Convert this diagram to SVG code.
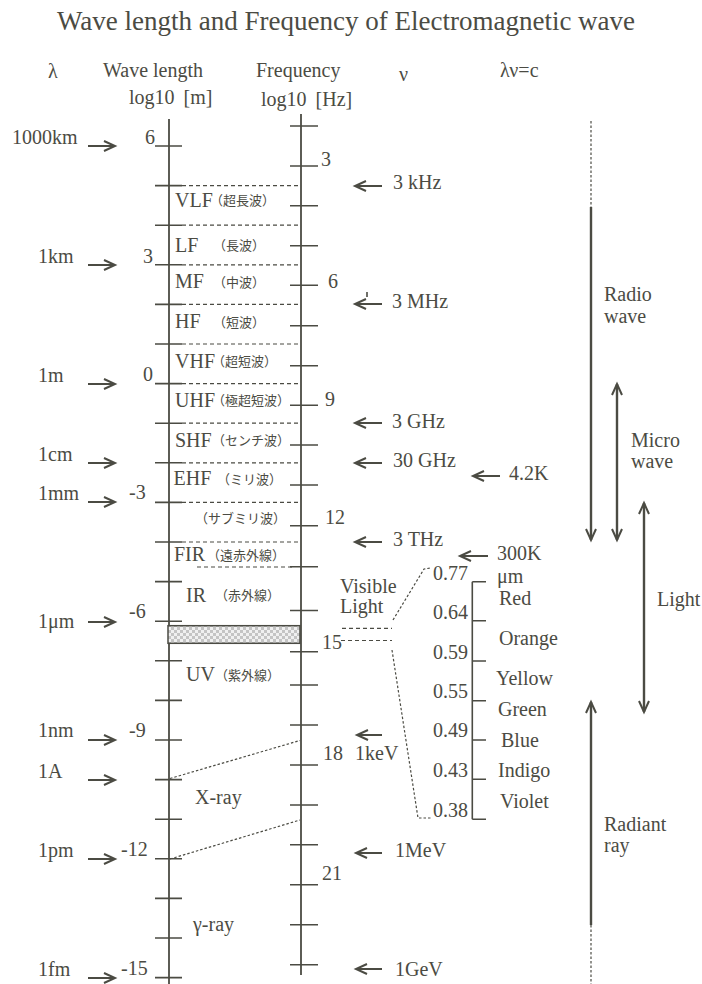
<svg xmlns="http://www.w3.org/2000/svg" width="702" height="984" viewBox="0 0 702 984">
<style>
text{font-family:"Liberation Serif","Times New Roman",serif;font-size:20px;fill:#4b4b43}
.t{font-size:27px}
.jp{font-family:"Noto Sans CJK JP","Noto Sans CJK SC",sans-serif;font-size:13px}
.ax{stroke:#4b4b43;stroke-width:1.8;fill:none}
.tk{stroke:#4b4b43;stroke-width:1.6;fill:none}
.ds{stroke:#4b4b43;stroke-width:1.2;stroke-dasharray:4 3;fill:none}
.dt{stroke:#4b4b43;stroke-width:1.2;stroke-dasharray:2.5 2;fill:none}
.ar{stroke:#4b4b43;stroke-width:2;fill:none;marker-end:url(#ah)}
.big{stroke:#4b4b43;stroke-width:2.4;fill:none}
</style>
<defs>
<marker id="ah" markerWidth="14" markerHeight="12" refX="11" refY="5" orient="auto-start-reverse" markerUnits="userSpaceOnUse" overflow="visible">
<path d="M0,0 L11,5 L0,10" fill="none" stroke="#4b4b43" stroke-width="2"/>
</marker>
<pattern id="chk" width="6" height="6" patternUnits="userSpaceOnUse">
<rect width="6" height="6" fill="#f0f0f0"/>
<rect width="3" height="3" fill="#c4c4c4"/>
<rect x="3" y="3" width="3" height="3" fill="#c4c4c4"/>
</pattern>
</defs>

<text class="t" x="57" y="30">Wave length and Frequency of Electromagnetic wave</text>

<g id="headers">
<text x="48" y="78">λ</text>
<text x="103" y="77">Wave length</text>
<text x="129" y="104">log10 <tspan dx="4">[m]</tspan></text>
<text x="256" y="77">Frequency</text>
<text x="261" y="106">log10 <tspan dx="4">[Hz]</tspan></text>
<text x="399" y="81">ν</text>
<text x="500" y="77">λν=c</text>
</g>

<g id="axes">
<line class="ax" x1="169" y1="119" x2="169" y2="984"/>
<line class="ax" x1="301" y1="114" x2="301" y2="975"/>
<path class="tk" d="M155,146H182M155,185.6H182M155,225.2H182M155,264.8H182M155,304.4H182M155,344H182M155,383.6H182M155,423.2H182M155,462.8H182M155,502.4H182M155,542H182M155,581.6H182M155,621.2H182M155,660.8H182M155,700.4H182M155,740H182M155,779.6H182M155,819.2H182M155,858.8H182M155,898.4H182M155,938H182M155,977.6H182"/>
<path class="tk" d="M290,126H318M290,166H318M290,205.7H318M290,245.7H318M290,285.3H318M290,325.7H318M290,365.7H318M290,405.3H318M290,445H318M290,485H318M290,525.7H318M290,566.7H318M290,610.5H318M290,651.7H318M290,685H318M290,725H318M290,765H318M290,805H318M290,844.7H318M290,884.7H318M290,924.7H318M290,964.7H318"/>
<path class="ds" d="M182,185.6H300M182,225.2H300M182,264.8H300M182,304.4H300M182,344H300M182,383.6H300M182,423.2H300M182,462.8H300M182,502.4H300M182,542H300M197,567H292"/>
</g>

<g id="left-labels">
<text x="12" y="144">1000km</text>
<text x="38" y="263">1km</text>
<text x="38" y="382">1m</text>
<text x="38" y="461">1cm</text>
<text x="38" y="500">1mm</text>
<text x="38" y="628">1μm</text>
<text x="38" y="737">1nm</text>
<text x="38" y="778">1A</text>
<text x="38" y="857">1pm</text>
<text x="38" y="976">1fm</text>
<text x="145" y="144">6</text>
<text x="143" y="263">3</text>
<text x="143" y="381">0</text>
<text x="129" y="499">-3</text>
<text x="129" y="618">-6</text>
<text x="129" y="737">-9</text>
<text x="121" y="856">-12</text>
<text x="121" y="975">-15</text>
</g>

<g id="right-numbers">
<text x="321" y="166">3</text>
<text x="328" y="288">6</text>
<text x="325" y="406">9</text>
<text x="325" y="524">12</text>
<text x="322" y="649">15</text>
<text x="323" y="760">18</text>
<text x="322" y="880">21</text>
</g>

<g id="band-VLF"><text x="175" y="207">VLF</text><text class="jp" x="210" y="205">（超長波）</text></g>
<g id="band-LF"><text x="175" y="251.5">LF</text><text class="jp" x="213" y="250">（長波）</text></g>
<g id="band-MF"><text x="175" y="288">MF</text><text class="jp" x="213" y="287">（中波）</text></g>
<g id="band-HF"><text x="175" y="328">HF</text><text class="jp" x="213" y="327">（短波）</text></g>
<g id="band-VHF"><text x="175" y="367.5">VHF</text><text class="jp" x="212" y="366">（超短波）</text></g>
<g id="band-UHF"><text x="175" y="406.5">UHF</text><text class="jp" x="212" y="405">（極超短波）</text></g>
<g id="band-SHF"><text x="175" y="446.5">SHF</text><text class="jp" x="212" y="445">（センチ波）</text></g>
<g id="band-EHF"><text x="173.5" y="485">EHF</text><text class="jp" x="217" y="484">（ミリ波）</text></g>
<g id="band-submm"><text class="jp" x="195" y="523">（サブミリ波）</text></g>
<g id="band-FIR"><text x="174" y="561">FIR</text><text class="jp" x="207" y="560">（遠赤外線）</text></g>
<g id="band-IR"><text x="186" y="601.5">IR</text><text class="jp" x="215" y="600">（赤外線）</text></g>
<g id="band-visible"><rect x="168" y="625.7" width="132" height="17.6" fill="url(#chk)" stroke="#4b4b43" stroke-width="1.5"/></g>
<g id="band-UV"><text x="186" y="681">UV</text><text class="jp" x="215" y="680">（紫外線）</text></g>
<g id="band-X"><text x="195" y="804">X-ray</text></g>
<g id="band-gamma"><text x="193" y="931">γ-ray</text></g>

<g id="freq-labels">
<text x="393" y="189">3 kHz</text>
<text x="392" y="308">3 MHz</text>
<text x="392" y="427.5">3 GHz</text>
<text x="393" y="466.5">30 GHz</text>
<text x="509" y="479.5">4.2K</text>
<text x="393" y="546">3 THz</text>
<text x="497" y="560">300K</text>
<text x="355" y="760">1keV</text>
<text x="395" y="857">1MeV</text>
<text x="395" y="976">1GeV</text>
</g>

<g id="visible-light">
<text x="340" y="592.5">Visible</text>
<text x="340" y="613">Light</text>
<path class="ds" d="M342,628.3H392M341,640.5H392"/>
<path class="dt" d="M393,620L424,569L431,568M392,650L418,818L432,818"/>
<path class="tk" d="M472.3,581.7V819.3M472.3,581.7H486M472.3,620.7H486M472.3,661H486M472.3,700.7H486M472.3,740H486M472.3,779.3H486M472.3,819.3H486"/>
<g text-anchor="end">
<text x="468" y="579.5">0.77</text>
<text x="468" y="618.5">0.64</text>
<text x="468" y="658.5">0.59</text>
<text x="468" y="697.5">0.55</text>
<text x="468" y="737">0.49</text>
<text x="468" y="776.5">0.43</text>
<text x="468" y="816.5">0.38</text>
</g>
<text x="497" y="583">μm</text>
<text x="499" y="605">Red</text>
<text x="499" y="645">Orange</text>
<text x="496" y="685">Yellow</text>
<text x="498" y="716">Green</text>
<text x="501" y="747">Blue</text>
<text x="498" y="776.5">Indigo</text>
<text x="500" y="808">Violet</text>
</g>

<g id="ranges">
<line class="dt" x1="591" y1="121" x2="591" y2="207"/>
<line class="big" x1="591" y1="207" x2="591" y2="540" marker-end="url(#ah)"/>
<line class="big" x1="617" y1="384" x2="617" y2="540" marker-start="url(#ah)" marker-end="url(#ah)"/>
<line class="big" x1="644" y1="503" x2="644" y2="712" marker-start="url(#ah)" marker-end="url(#ah)"/>
<line class="big" x1="591" y1="925" x2="591" y2="702" marker-end="url(#ah)"/>
<line class="dt" x1="591" y1="925" x2="591" y2="984"/>
<text x="604" y="301">Radio</text>
<text x="604" y="323">wave</text>
<text x="631" y="447">Micro</text>
<text x="631" y="468">wave</text>
<text x="657" y="606">Light</text>
<text x="604" y="831">Radiant</text>
<text x="604" y="852">ray</text>
</g>

<g id="connectors">
<line class="ar" x1="88" y1="146" x2="115" y2="146"/>
<line class="ar" x1="88" y1="265" x2="115" y2="265"/>
<line class="ar" x1="88" y1="384" x2="115" y2="384"/>
<line class="ar" x1="88" y1="463" x2="115" y2="463"/>
<line class="ar" x1="88" y1="502" x2="115" y2="502"/>
<line class="ar" x1="88" y1="622" x2="115" y2="622"/>
<line class="ar" x1="88" y1="740" x2="115" y2="740"/>
<line class="ar" x1="88" y1="780" x2="115" y2="780"/>
<line class="ar" x1="88" y1="859" x2="115" y2="859"/>
<line class="ar" x1="88" y1="978" x2="115" y2="978"/>
<line class="ar" x1="382" y1="186" x2="355" y2="186"/>
<line class="ar" x1="382" y1="304" x2="355" y2="304"/>
<line class="tk" x1="367" y1="292" x2="367" y2="297"/>
<line class="ar" x1="382" y1="423" x2="355" y2="423"/>
<line class="ar" x1="382" y1="463" x2="355" y2="463"/>
<line class="ar" x1="500" y1="476" x2="473" y2="476"/>
<line class="ar" x1="382" y1="542" x2="355" y2="542"/>
<line class="ar" x1="488" y1="556" x2="460" y2="556"/>
<line class="ar" x1="382" y1="735" x2="357" y2="735"/>
<line class="ar" x1="382" y1="853" x2="356" y2="853"/>
<line class="ar" x1="382" y1="969" x2="356" y2="969"/>
<path class="dt" d="M170,778.5L300,740.5M170,859L300,820"/>
</g>
</svg>
